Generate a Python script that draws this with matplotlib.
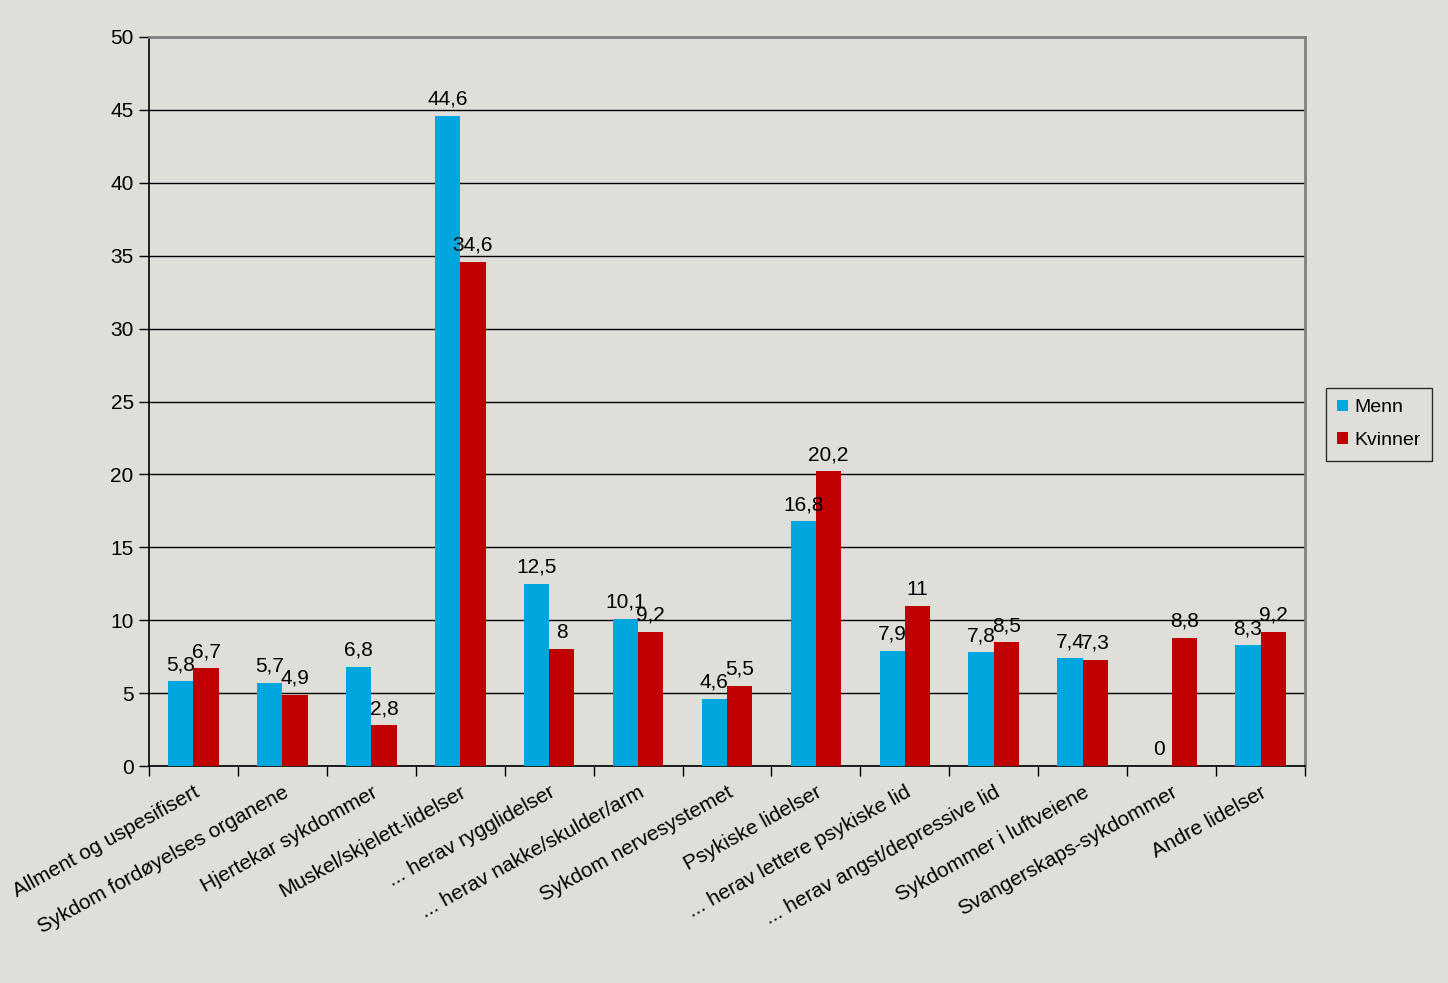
import matplotlib
matplotlib.use("Agg")
import matplotlib.pyplot as plt
import numpy as np

categories = [
    "Allment og uspesifisert",
    "Sykdom fordøyelses organene",
    "Hjertekar sykdommer",
    "Muskel/skjelett-lidelser",
    "... herav rygglidelser",
    "... herav nakke/skulder/arm",
    "Sykdom nervesystemet",
    "Psykiske lidelser",
    "... herav lettere psykiske lid",
    "... herav angst/depressive lid",
    "Sykdommer i luftveiene",
    "Svangerskaps-sykdommer",
    "Andre lidelser",
]
menn = [5.8, 5.7, 6.8, 44.6, 12.5, 10.1, 4.6, 16.8, 7.9, 7.8, 7.4, 0, 8.3]
kvinner = [6.7, 4.9, 2.8, 34.6, 8, 9.2, 5.5, 20.2, 11, 8.5, 7.3, 8.8, 9.2]
y_ticks = [0, 5, 10, 15, 20, 25, 30, 35, 40, 45, 50]

BG = "#dfded9"
BLUE = "#00a6de"
RED = "#c00000"
FS = 15

plt.rcParams["font.family"] = ["Liberation Sans", "DejaVu Sans"]

fig = plt.figure(figsize=(14.48, 9.83), dpi=100, facecolor=BG)
ax = fig.add_axes([149 / 1448, 1 - 766 / 983, 1156 / 1448, 729 / 983])
ax.set_facecolor(BG)

x = np.arange(len(categories))
w = 0.285
b1 = ax.bar(x - w / 2, menn, w, color=BLUE, label="Menn", zorder=3)
b2 = ax.bar(x + w / 2, kvinner, w, color=RED, label="Kvinner", zorder=3)


def fmt(v):
    return f"{v:g}".replace(".", ",")


for bars, vals in ((b1, menn), (b2, kvinner)):
    for rect, v in zip(bars, vals):
        ax.annotate(fmt(v), (rect.get_x() + rect.get_width() / 2, v),
                    xytext=(0, 5), textcoords="offset points",
                    ha="center", va="bottom", fontsize=FS, zorder=4)

ax.set_xlim(-0.5, len(categories) - 0.5)
ax.set_ylim(0, 50)
ax.set_yticks(y_ticks)
ax.tick_params(axis="y", labelsize=FS, length=7, width=1, direction="out", pad=4)
ax.grid(axis="y", color="black", linewidth=1, zorder=1)
ax.set_axisbelow(True)

# tick marks between categories, labels at centres
ax.set_xticks(np.arange(-0.5, len(categories), 1))
ax.set_xticklabels([])
ax.tick_params(axis="x", length=7, width=1, direction="out")
ax.set_xticks(x, minor=True)
ax.set_xticklabels(categories, minor=True, rotation=29, ha="right",
                   rotation_mode="anchor", fontsize=FS)
ax.tick_params(axis="x", which="minor", length=0, pad=12)

for side in ("left", "bottom"):
    ax.spines[side].set_color("black")
    ax.spines[side].set_linewidth(1.2)
for side in ("top", "right"):
    ax.spines[side].set_color("#808080")
    ax.spines[side].set_linewidth(2)

leg = ax.legend(loc="center left", bbox_to_anchor=(1.018, 0.469),
                fontsize=14, frameon=True, fancybox=False, edgecolor="black",
                facecolor=BG, handlelength=0.55, handleheight=0.55,
                handletextpad=0.3, labelspacing=0.8, borderpad=0.6,
                borderaxespad=0)
leg.get_frame().set_linewidth(1)

fig.savefig("out.png", dpi=100, facecolor=BG)
